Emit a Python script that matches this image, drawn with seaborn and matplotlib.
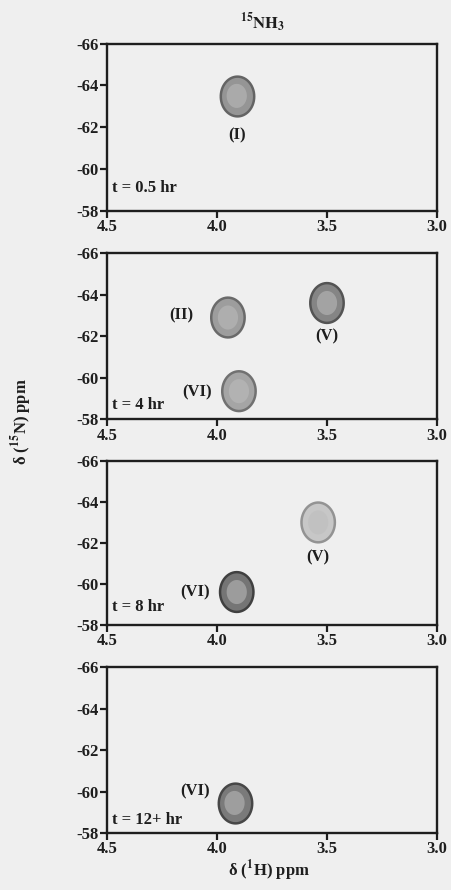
import numpy as np
import pandas as pd
import matplotlib
matplotlib.use("Agg")
import matplotlib.pyplot as plt
from matplotlib.path import Path
import seaborn as sns

# panel times and peak table
panel_times = ["t = 0.5 hr", "t = 4 hr", "t = 8 hr", "t = 12+ hr"]
peak_panel = [0, 1, 1, 1, 2, 2, 3]
peak_h = [3.91, 3.95, 3.50, 3.90, 3.54, 3.91, 3.92]        # delta 1H, ppm
peak_n = [-63.5, -62.9, -63.6, -59.35, -63.0, -59.6, -59.45]  # delta 15N, ppm
peak_intensity = [0.50, 0.48, 0.56, 0.45, 0.33, 0.62, 0.60]
peak_names = ["(I)", "(II)", "(V)", "(VI)", "(V)", "(VI)", "(VI)"]
label_h = [3.91, 4.16, 3.50, 4.09, 3.54, 4.10, 4.10]
label_n = [-61.6, -63.0, -62.0, -59.3, -61.3, -59.6, -60.0]

x_ticks = [4.5, 4.0, 3.5, 3.0]
y_ticks = [-66, -64, -62, -60, -58]

df = pd.DataFrame({"panel": peak_panel, "h": peak_h, "n": peak_n,
                   "inten": peak_intensity, "name": peak_names,
                   "lh": label_h, "ln": label_n})

sns.set_theme(style="ticks")
plt.rcParams["font.family"] = ["Liberation Serif", "DejaVu Serif"]
plt.rcParams["font.weight"] = "bold"
plt.rcParams["mathtext.fontset"] = "stix"
plt.rcParams["axes.unicode_minus"] = False

bg = "#efefef"
ink = "#1e1e1e"
fig = plt.figure(figsize=(4.51, 8.90), dpi=100, facecolor=bg)

# slightly tall ellipse marker for the cross peaks
t = np.linspace(0, 2 * np.pi, 60)
blob = Path(np.column_stack([0.42 * np.cos(t), 0.5 * np.sin(t)]), closed=True)

# axes boxes (left, bottom, width, height) in figure fractions
boxes = [(0.237, 0.763, 0.732, 0.188),
         (0.237, 0.529, 0.732, 0.1865),
         (0.237, 0.298, 0.732, 0.184),
         (0.237, 0.064, 0.732, 0.1865)]
time_y = [0.14, 0.085, 0.11, 0.08]

greys = plt.cm.Greys
for i, box in enumerate(boxes):
    ax = fig.add_axes(box)
    ax.set_facecolor(bg)
    sub = df[df["panel"] == i]
    if len(sub):
        cols = [greys(v) for v in sub["inten"]]
        edges = [greys(min(v + 0.18, 0.9)) for v in sub["inten"]]
        sns.scatterplot(data=sub, x="h", y="n", marker=blob, s=820,
                        c=cols, edgecolor=edges, linewidth=1.8, ax=ax,
                        legend=False, zorder=3)
        sns.scatterplot(data=sub, x="h", y="n", marker=blob, s=300,
                        color="#bdbdbd", edgecolor="none", alpha=0.55,
                        ax=ax, legend=False, zorder=4)
        for _, r in sub.iterrows():
            ax.text(r["lh"], r["ln"], r["name"], ha="center", va="center",
                    fontsize=12, fontweight="bold", color=ink)
    ax.text(0.015, time_y[i], panel_times[i], transform=ax.transAxes,
            ha="left", va="center", fontsize=12, fontweight="bold",
            color=ink)
    ax.set_xlim(4.5, 3.0)
    ax.set_ylim(-58, -66)
    ax.set_xticks(x_ticks)
    ax.set_xticklabels([f"{v:.1f}" for v in x_ticks])
    ax.set_yticks(y_ticks)
    ax.set_yticklabels([str(v) for v in y_ticks])
    ax.set_xlabel("")
    ax.set_ylabel("")
    ax.tick_params(direction="out", length=5, width=1.6, pad=1,
                   labelsize=12, colors=ink)
    for lbl in ax.get_xticklabels() + ax.get_yticklabels():
        lbl.set_fontweight("bold")
    for sp in ax.spines.values():
        sp.set_visible(True)
        sp.set_linewidth(1.7)
        sp.set_color(ink)

fig.text(0.583, 0.974, r"$^{\mathbf{15}}\mathbf{NH}_{\mathbf{3}}$",
         ha="center", va="center", fontsize=12, color=ink)
fig.text(0.049, 0.526, r"δ ($^{\mathbf{15}}$N) ppm", rotation=90,
         ha="center", va="center", fontsize=12, fontweight="bold",
         color=ink)
fig.text(0.597, 0.008, r"δ ($^{\mathbf{1}}$H) ppm", ha="center",
         va="bottom", fontsize=12, fontweight="bold", color=ink)

fig.savefig("out.png", dpi=100, facecolor=bg)
